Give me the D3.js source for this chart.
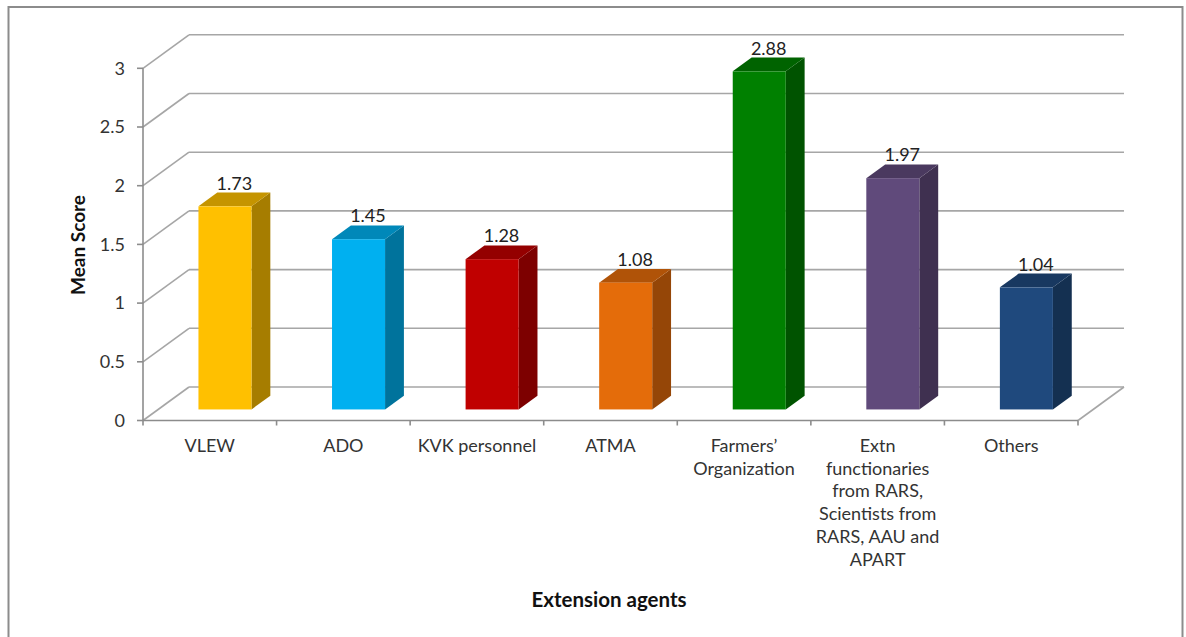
<!DOCTYPE html>
<html>
<head>
<meta charset="utf-8">
<script src="https://cdn.jsdelivr.net/npm/d3@7"></script>
<style>
  html, body { margin: 0; padding: 0; background: #fff; }
  svg { display: block; font-family: Lato, "Open Sans", sans-serif; }
</style>
</head>
<body>
<svg id="chart" width="1186" height="637"></svg>
<script>
// Extension agents and their mean scores
const categories = [
  "VLEW",
  "ADO",
  "KVK personnel",
  "ATMA",
  "Farmers’\nOrganization",
  "Extn\nfunctionaries\nfrom RARS,\nScientists from\nRARS, AAU and\nAPART",
  "Others"
];
const meanScores = [1.73, 1.45, 1.28, 1.08, 2.88, 1.97, 1.04];
const yTicks = [0, 0.5, 1, 1.5, 2, 2.5, 3];
const barColors = ["#FFC000", "#00B0F0", "#C00000", "#E46C0A", "#008000", "#604A7B", "#1F497D"];

const svg = d3.select("#chart");

// front plane geometry and oblique depth offset
const left = 143, right = 1078;
const DX = 46, DY = 33.5;
const x = d3.scaleBand().domain(categories).range([left, right]).paddingInner(0).paddingOuter(0);
const y = d3.scaleLinear().domain([0, 3]).range([420.5, 68.3]);

const z0 = 0.33, z1 = 0.74;      // bar front / back depth
const barFrac = 0.397;           // bar width relative to band

const gridColor = "#A6A6A6";

// outer frame
svg.append("rect")
  .attr("x", 8.5).attr("y", 7).attr("width", 1174).attr("height", 700)
  .attr("fill", "none").attr("stroke", "#8C8C8C").attr("stroke-width", 2);

const grid = svg.append("g").attr("stroke", gridColor).attr("stroke-width", 1.6).attr("fill", "none");

// back wall gridlines
grid.selectAll("line.back").data(yTicks).join("line")
  .attr("class", "back")
  .attr("x1", left + DX).attr("x2", right + DX)
  .attr("y1", d => y(d) - DY).attr("y2", d => y(d) - DY);

// side wall diagonals
grid.selectAll("line.side").data(yTicks).join("line")
  .attr("class", "side")
  .attr("x1", left).attr("x2", left + DX)
  .attr("y1", d => y(d)).attr("y2", d => y(d) - DY);

// floor right edge
grid.append("line")
  .attr("x1", right).attr("y1", y(0))
  .attr("x2", right + DX).attr("y2", y(0) - DY);

// axes
const axisG = svg.append("g").attr("stroke", "#8C8C8C").attr("stroke-width", 1.6);
axisG.append("line").attr("x1", left).attr("x2", left).attr("y1", y(3)).attr("y2", y(0));
axisG.append("line").attr("x1", left).attr("x2", right).attr("y1", y(0)).attr("y2", y(0));
axisG.selectAll("line.yt").data(yTicks).join("line")
  .attr("class", "yt")
  .attr("x1", left - 6).attr("x2", left)
  .attr("y1", d => y(d)).attr("y2", d => y(d));
const catEdges = categories.map(c => x(c)).concat([right]);
axisG.selectAll("line.xt").data(catEdges).join("line")
  .attr("class", "xt")
  .attr("x1", d => d).attr("x2", d => d)
  .attr("y1", y(0)).attr("y2", y(0) + 5);

// y tick labels
svg.append("g").selectAll("text").data(yTicks).join("text")
  .attr("x", 125).attr("y", d => y(d))
  .attr("dy", "0.35em")
  .attr("text-anchor", "end")
  .attr("font-size", 18).attr("fill", "#333")
  .text(d => d);

// bars
const bars = svg.append("g");
const bw = x.bandwidth() * barFrac;
const ddx = (z1 - z0) * DX, ddy = (z1 - z0) * DY;

categories.forEach((c, i) => {
  const v = meanScores[i];
  const base = d3.color(barColors[i]);
  const x0 = x(c) + (x.bandwidth() - bw) / 2 + z0 * DX;
  const x1 = x0 + bw;
  const yb = y(0) - z0 * DY;
  const yt = y(v) - z0 * DY;
  const g = bars.append("g");
  // side face
  g.append("polygon")
    .attr("points", [[x1, yt], [x1 + ddx, yt - ddy], [x1 + ddx, yb - ddy], [x1, yb]].join(" "))
    .attr("fill", base.darker(1.2));
  // top face
  g.append("polygon")
    .attr("points", [[x0, yt], [x1, yt], [x1 + ddx, yt - ddy], [x0 + ddx, yt - ddy]].join(" "))
    .attr("fill", base.darker(0.73));
  // front face
  g.append("rect")
    .attr("x", x0).attr("y", yt).attr("width", bw).attr("height", yb - yt)
    .attr("fill", base);
  // value label
  g.append("text")
    .attr("x", x0 + bw / 2 + ddx / 2)
    .attr("y", yt - ddy - 3)
    .attr("text-anchor", "middle")
    .attr("font-size", 18).attr("fill", "#222")
    .text(v.toFixed(2));
});

// category labels
const catLabels = svg.append("g").attr("font-size", 18).attr("fill", "#333").attr("text-anchor", "middle");
categories.forEach(c => {
  const t = catLabels.append("text")
    .attr("x", x(c) + x.bandwidth() / 2)
    .attr("y", 452);
  c.split("\n").forEach((line, j) => {
    t.append("tspan")
      .attr("x", x(c) + x.bandwidth() / 2)
      .attr("dy", j === 0 ? 0 : 22.7)
      .text(line);
  });
});

// axis titles
svg.append("text")
  .attr("x", 609).attr("y", 607)
  .attr("text-anchor", "middle")
  .attr("font-size", 20.5).attr("font-weight", "bold").attr("fill", "#111")
  .text("Extension agents");

svg.append("text")
  .attr("transform", "translate(85,245) rotate(-90)")
  .attr("text-anchor", "middle")
  .attr("font-size", 19).attr("font-weight", "bold").attr("fill", "#111")
  .text("Mean Score");
</script>
</body>
</html>
